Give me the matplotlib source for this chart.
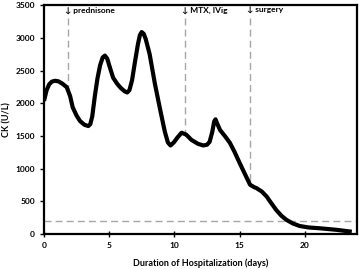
import numpy as np
import matplotlib.pyplot as plt

plt.rcParams['font.family'] = ['Lato', 'DejaVu Sans']
plt.rcParams['font.weight'] = 'bold'

# CK trace (day, U/L)
days = [0, 0.2, 0.4, 0.6, 0.84, 1.1, 1.4, 1.74, 2.0, 2.2, 2.5, 2.76, 3.1, 3.4, 3.55,
        3.7, 3.9, 4.1, 4.3, 4.5, 4.67, 4.85, 5.0, 5.3, 5.6, 5.9, 6.2, 6.38, 6.55, 6.75,
        6.97, 7.2, 7.35, 7.49, 7.65, 7.8, 8.1, 8.5, 8.9, 9.27, 9.5, 9.7, 9.95, 10.25,
        10.55, 10.9, 11.3, 11.8, 12.2, 12.5, 12.7, 12.9, 13.05, 13.15, 13.3, 13.5, 13.9,
        14.25, 14.6, 15.0, 15.4, 15.8, 16.1, 16.3, 16.7, 17.07, 17.4, 17.8, 18.2, 18.6,
        19.1, 19.6, 20.3, 21.15, 22.4, 23.6]
ck = [2035, 2200, 2290, 2330, 2343, 2335, 2300, 2246, 2110, 1938, 1810, 1728, 1670, 1651, 1680,
      1800, 2113, 2380, 2580, 2700, 2728, 2680, 2580, 2390, 2300, 2230, 2180, 2164, 2200, 2350,
      2626, 2900, 3040, 3088, 3060, 2980, 2750, 2300, 1908, 1560, 1400, 1354, 1400, 1480,
      1549, 1520, 1440, 1380, 1354, 1365, 1410, 1560, 1720, 1754, 1680, 1590, 1490,
      1395, 1260, 1087, 920, 754, 718, 701, 650, 574, 480, 369, 280, 215,
      160, 123, 100, 88, 65, 35]

events = ['prednisone', 'MTX, IVig', 'surgery']
event_days = [1.84, 10.8, 15.8]
event_ck = [2220, 1525, 754]
normal_ck = 200

fig = plt.figure(figsize=(3.59, 2.69), dpi=100)
ax = fig.add_axes([0.1226, 0.130, 0.8718, 0.851])

ax.axhline(normal_ck, color='#a6a6a6', lw=1.0, ls=(0, (5, 3)), zorder=1)
for name, d, c in zip(events, event_days, event_ck):
    ax.plot([d, d], [3300, c], color='#a6a6a6', lw=1.0, ls=(0, (5, 3)), zorder=1)
    ax.text(d - 0.25, 3420, '\u2193 ' + name, fontsize=6, fontweight='bold',
            ha='left', va='center')

ax.plot(days, ck, color='black', lw=3.0, solid_capstyle='butt',
        solid_joinstyle='round', zorder=3)

ax.set_xlim(0, 24)
ax.set_ylim(0, 3500)
ax.set_xticks([0, 5, 10, 15, 20])
ax.set_yticks(range(0, 3501, 500))
ax.tick_params(axis='both', labelsize=6, width=1.0, length=3)
ax.tick_params(axis='x', direction='inout', length=4)
ax.tick_params(axis='y', direction='out')
for lab in ax.get_xticklabels() + ax.get_yticklabels():
    lab.set_fontweight('bold')
for s in ax.spines.values():
    s.set_linewidth(1.6)

ax.set_xlabel('Duration of Hospitalization (days)', fontsize=6.5, fontweight='bold', labelpad=7)
ax.set_ylabel('CK (U/L)', fontsize=6.5, fontweight='bold')
ax.yaxis.set_label_coords(-0.103, 0.5)

fig.savefig('out.png', dpi=100)
